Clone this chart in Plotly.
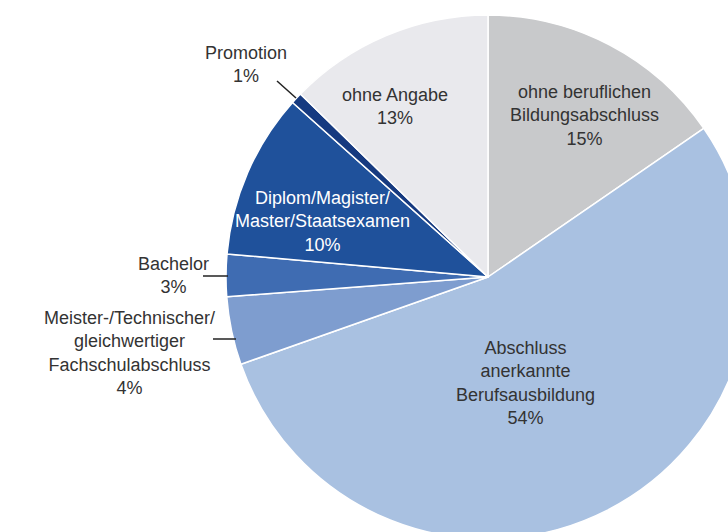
import plotly.graph_objects as go

# data, clockwise from 12 o'clock (shares in %)
labels = [
    "ohne beruflichen Bildungsabschluss",
    "Abschluss anerkannte Berufsausbildung",
    "Meister-/Technischer/ gleichwertiger Fachschulabschluss",
    "Bachelor",
    "Diplom/Magister/Master/Staatsexamen",
    "Promotion",
    "ohne Angabe",
]
values = [15.4, 54.2, 4.2, 2.6, 10.2, 0.7, 12.7]
label_text = [
    "ohne beruflichen<br>Bildungsabschluss<br>15%",
    "Abschluss<br>anerkannte<br>Berufsausbildung<br>54%",
    "Meister-/Technischer/<br>gleichwertiger<br>Fachschulabschluss<br>4%",
    "Bachelor<br>3%",
    "Diplom/Magister/<br>Master/Staatsexamen<br>10%",
    "Promotion<br>1%",
    "ohne Angabe<br>13%",
]

colors = ["#c8c9cb", "#a9c1e1", "#7e9dcf", "#3f6cb2", "#1f519b", "#163a80", "#e9e9ed"]
text_colors = ["#333333"] * 4 + ["#ffffff"] + ["#333333"] * 2

# figure is larger than the window; the pie is cropped at right and bottom
W, H = 760, 550
cx, cy, r = 488, 277, 262


def px(x, y):
    return x / W, 1 - y / H


# label centres (pixels) and leader lines
label_pos = [(584, 115), (525, 383), (129, 353), (173, 275), (322, 222), (246, 65), (395, 106)]
leaders = {
    2: ((213, 339), (236, 339)),
    3: ((203, 276), (228, 276)),
    5: ((277, 81), (296, 98)),
}

fig = go.Figure(
    go.Pie(
        labels=labels,
        values=values,
        sort=False,
        direction="clockwise",
        rotation=0,
        textinfo="none",
        hoverinfo="label+percent",
        marker=dict(colors=colors, line=dict(color="white", width=1.5)),
        domain=dict(
            x=[(cx - r) / W, (cx + r) / W],
            y=[1 - (cy + r) / H, 1 - (cy - r) / H],
        ),
    )
)

for i, t in enumerate(label_text):
    x, y = px(*label_pos[i])
    fig.add_annotation(
        x=x, y=y, xref="paper", yref="paper",
        xanchor="center", yanchor="middle",
        text=t, showarrow=False, align="center",
        font=dict(color=text_colors[i], size=18),
    )

for i, (p0, p1) in leaders.items():
    x0, y0 = px(*p0)
    x1, y1 = px(*p1)
    fig.add_shape(
        type="line", xref="paper", yref="paper",
        x0=x0, y0=y0, x1=x1, y1=y1,
        line=dict(color="#222222", width=1.5),
    )

fig.update_layout(
    width=W,
    height=H,
    margin=dict(l=0, r=0, t=0, b=0),
    showlegend=False,
    paper_bgcolor="white",
    font=dict(family="Arial, Liberation Sans, sans-serif", color="#333333"),
)

fig.write_html(
    "out.html",
    config={"displayModeBar": False},
    post_script="document.body.style.margin='0';document.body.style.overflow='hidden';",
)
